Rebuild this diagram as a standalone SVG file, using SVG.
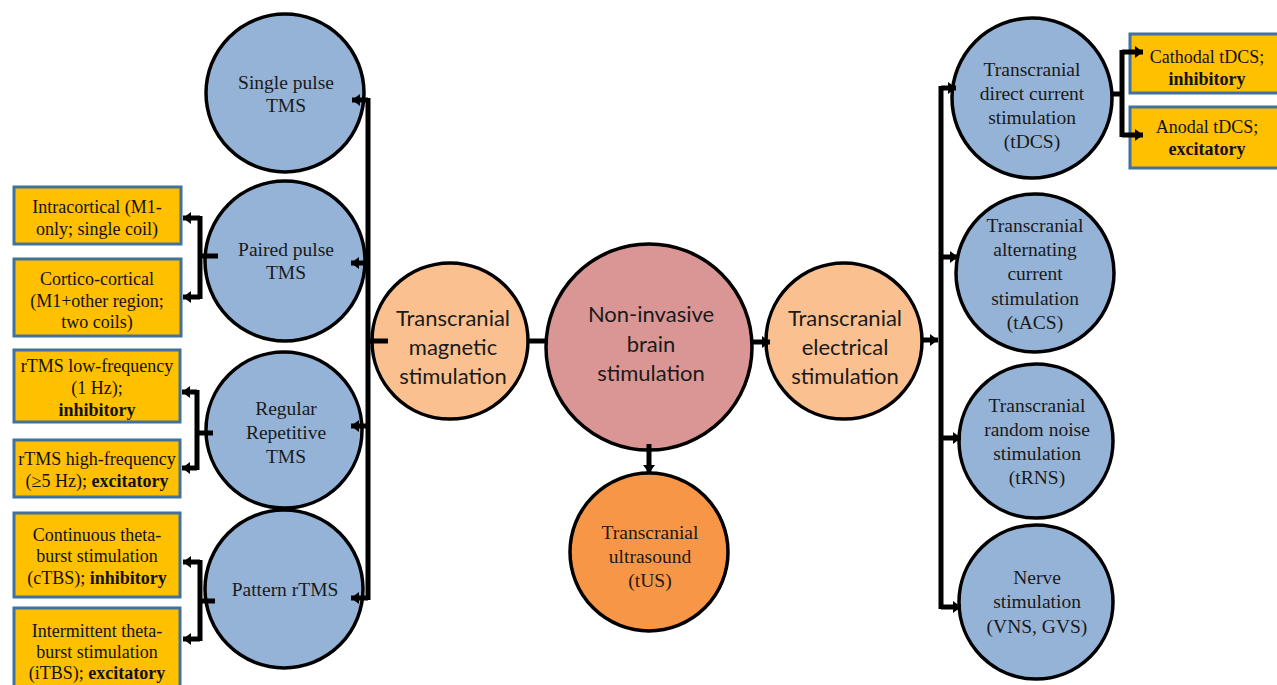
<svg xmlns="http://www.w3.org/2000/svg" width="1277" height="685" viewBox="0 0 1277 685">
<style>
.blue{fill:#95B3D7;stroke:#000;stroke-width:3.5}
.lor{fill:#FAC090;stroke:#000;stroke-width:3.5}
.pink{fill:#D99694;stroke:#000;stroke-width:3.5}
.org{fill:#F79646;stroke:#000;stroke-width:3.5}
.box{fill:#FFC000;stroke:#41719C;stroke-width:3}
.st{font-family:"Liberation Serif","Times New Roman",serif;font-size:19.5px;fill:#1a1a1a;text-anchor:middle}
.bt{font-family:"Liberation Serif","Times New Roman",serif;font-size:18px;fill:#111;text-anchor:middle}
.ct{font-family:Lato,"Noto Sans",sans-serif;font-size:22px;fill:#1a1a1a;text-anchor:middle}
.b{font-weight:bold}
.cn{fill:none;stroke:#000;stroke-width:5}
.ar{fill:none;stroke:#000;stroke-width:5;marker-end:url(#ah)}
</style>
<defs>
<marker id="ah" markerUnits="userSpaceOnUse" markerWidth="10" markerHeight="12" refX="8" refY="6" orient="auto">
<path d="M0,0 L8,6 L0,12 Z" fill="#000"/>
</marker>
</defs>
<rect width="1277" height="685" fill="#fff"/>

<g id="node-single">
<circle class="blue" cx="285" cy="93" r="79"/>
<text class="st" x="286" y="89">Single pulse</text>
<text class="st" x="286" y="112">TMS</text>
</g>
<g id="node-paired">
<circle class="blue" cx="285" cy="261" r="80"/>
<text class="st" x="286" y="256">Paired pulse</text>
<text class="st" x="286" y="279">TMS</text>
</g>
<g id="node-regular">
<circle class="blue" cx="284" cy="430" r="78"/>
<text class="st" x="286" y="415">Regular</text>
<text class="st" x="286" y="439">Repetitive</text>
<text class="st" x="286" y="463">TMS</text>
</g>
<g id="node-pattern">
<circle class="blue" cx="284" cy="589" r="79"/>
<text class="st" x="285" y="596">Pattern rTMS</text>
</g>

<g id="box-intracortical">
<rect class="box" x="14" y="187" width="167" height="57"/>
<text class="bt" x="97" y="213">Intracortical (M1-</text>
<text class="bt" x="97" y="235">only; single coil)</text>
</g>
<g id="box-cortico">
<rect class="box" x="14" y="259" width="167" height="77"/>
<text class="bt" x="97" y="285">Cortico-cortical</text>
<text class="bt" x="97" y="307">(M1+other region;</text>
<text class="bt" x="97" y="328">two coils)</text>
</g>
<g id="box-rtms-low">
<rect class="box" x="14" y="350" width="166" height="72"/>
<text class="bt" x="97" y="372">rTMS low-frequency</text>
<text class="bt" x="97" y="394">(1 Hz);</text>
<text class="bt b" x="97" y="416">inhibitory</text>
</g>
<g id="box-rtms-high">
<rect class="box" x="14" y="440" width="166" height="57"/>
<text class="bt" x="97" y="465">rTMS high-frequency</text>
<text class="bt" x="97" y="487">(≥5 Hz); <tspan class="b">excitatory</tspan></text>
</g>
<g id="box-ctbs">
<rect class="box" x="14" y="513" width="166" height="84"/>
<text class="bt" x="97" y="541">Continuous theta-</text>
<text class="bt" x="97" y="562">burst stimulation</text>
<text class="bt" x="97" y="584">(cTBS); <tspan class="b">inhibitory</tspan></text>
</g>
<g id="box-itbs">
<rect class="box" x="14" y="608" width="166" height="84"/>
<text class="bt" x="97" y="637">Intermittent theta-</text>
<text class="bt" x="97" y="658">burst stimulation</text>
<text class="bt" x="97" y="679">(iTBS); <tspan class="b">excitatory</tspan></text>
</g>

<g id="node-tms">
<circle class="lor" cx="450" cy="341" r="78"/>
<text class="ct" x="453" y="326">Transcranial</text>
<text class="ct" x="453" y="355">magnetic</text>
<text class="ct" x="453" y="384">stimulation</text>
</g>
<g id="node-nibs">
<circle class="pink" cx="649" cy="347" r="103"/>
<text class="ct" x="651" y="322">Non-invasive</text>
<text class="ct" x="651" y="352">brain</text>
<text class="ct" x="651" y="381">stimulation</text>
</g>
<g id="node-tes">
<circle class="lor" cx="844" cy="341" r="78"/>
<text class="ct" x="845" y="326">Transcranial</text>
<text class="ct" x="845" y="355">electrical</text>
<text class="ct" x="845" y="384">stimulation</text>
</g>
<g id="node-tus">
<circle class="org" cx="649" cy="552" r="79"/>
<text class="st" x="650" y="539">Transcranial</text>
<text class="st" x="650" y="563">ultrasound</text>
<text class="st" x="650" y="587">(tUS)</text>
</g>

<g id="node-tdcs">
<circle class="blue" cx="1032" cy="98" r="80"/>
<text class="st" x="1032" y="76">Transcranial</text>
<text class="st" x="1032" y="100">direct current</text>
<text class="st" x="1032" y="124">stimulation</text>
<text class="st" x="1032" y="148">(tDCS)</text>
</g>
<g id="node-tacs">
<circle class="blue" cx="1035" cy="273" r="79"/>
<text class="st" x="1035" y="232">Transcranial</text>
<text class="st" x="1035" y="256">alternating</text>
<text class="st" x="1035" y="280">current</text>
<text class="st" x="1035" y="305">stimulation</text>
<text class="st" x="1035" y="329">(tACS)</text>
</g>
<g id="node-trns">
<circle class="blue" cx="1036" cy="441" r="77"/>
<text class="st" x="1037" y="412">Transcranial</text>
<text class="st" x="1037" y="436">random noise</text>
<text class="st" x="1037" y="460">stimulation</text>
<text class="st" x="1037" y="484">(tRNS)</text>
</g>
<g id="node-nerve">
<circle class="blue" cx="1036" cy="602" r="77"/>
<text class="st" x="1037" y="584">Nerve</text>
<text class="st" x="1037" y="608">stimulation</text>
<text class="st" x="1037" y="633">(VNS, GVS)</text>
</g>

<g id="box-cathodal">
<rect class="box" x="1130" y="34" width="150" height="59"/>
<text class="bt" x="1207" y="63">Cathodal tDCS;</text>
<text class="bt b" x="1207" y="85">inhibitory</text>
</g>
<g id="box-anodal">
<rect class="box" x="1130" y="107" width="150" height="61"/>
<text class="bt" x="1207" y="133">Anodal tDCS;</text>
<text class="bt b" x="1207" y="155">excitatory</text>
</g>

<g id="connectors">
<path class="cn" d="M388 341 H368 M368 98 V600"/>
<path class="ar" d="M368 100 H352"/>
<path class="ar" d="M368 263 H351"/>
<path class="ar" d="M368 426 H351"/>
<path class="ar" d="M368 598 H351"/>
<path class="cn" d="M528 341 H546"/>
<path class="ar" d="M753 342 H770"/>
<path class="ar" d="M923 340 H938"/>
<path class="cn" d="M941 86 V609"/>
<path class="ar" d="M941 88 H956"/>
<path class="ar" d="M941 257 H958"/>
<path class="ar" d="M941 438 H961"/>
<path class="ar" d="M941 607 H961"/>
<path class="cn" d="M1113 94 H1122 M1122 50 V137"/>
<path class="ar" d="M1122 52 H1143"/>
<path class="ar" d="M1122 135 H1143"/>
<path class="cn" d="M218 256 H200 M200 216 V299"/>
<path class="ar" d="M200 218 H183"/>
<path class="ar" d="M200 297 H183"/>
<path class="cn" d="M213 433 H197 M197 390 V470"/>
<path class="ar" d="M197 392 H182"/>
<path class="ar" d="M197 468 H182"/>
<path class="cn" d="M215 601 H200 M200 560 V641"/>
<path class="ar" d="M200 562 H183"/>
<path class="ar" d="M200 639 H183"/>
<path class="ar" d="M649 444 V473"/>
</g>
</svg>
